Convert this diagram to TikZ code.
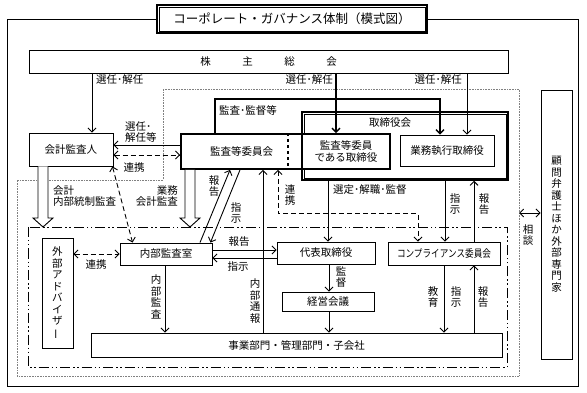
\documentclass[tikz,border=0pt]{standalone}
\usepackage{fontspec}
\setmainfont{Noto Sans CJK JP}
\usepackage{graphicx}
\usetikzlibrary{arrows.meta,calc}

\newcommand{\hollowarr}[2]{%
  \draw[hollow] ($(#1)+(-5,0)$) -- ($(#2)+(-5,-9)$) -- ($(#2)+(-10,-9)$) -- (#2)
    -- ($(#2)+(10,-9)$) -- ($(#2)+(5,-9)$) -- ($(#1)+(5,0)$);}
\newcommand{\innerline}[1]{%
  \draw[line width=0.6pt] ([xshift=2.6pt,yshift=-2.6pt]#1.north west) rectangle ([xshift=-2.6pt,yshift=2.6pt]#1.south east);}

\begin{document}
\begin{tikzpicture}[
    x=1pt, y=-1pt,
    font=\fontsize{10.5}{11.5}\selectfont,
    box/.style={
        draw,
        line width=0.9pt,
        fill=white,
        inner sep=1pt,
        align=center
    },
    boldbox/.style={box, line width=1.8pt},
    dblbox/.style={draw, line width=1.5pt, fill=white, inner sep=1pt},
    lbl/.style={inner sep=0pt, align=center},
    arrow/.style={-{Straight Barb[length=4pt,width=8pt]}, line width=0.9pt},
    darrow/.style={{Straight Barb[length=4pt,width=8pt]}-{Straight Barb[length=4pt,width=8pt]}, line width=0.9pt, dash pattern=on 5pt off 3pt},
    hollow/.style={line width=0.9pt, fill=white},
    region/.style={densely dotted, gray, line width=0.6pt},
    ddframe/.style={line width=0.9pt, dash pattern=on 10pt off 3pt on 1.5pt off 2.5pt on 1.5pt off 3pt}
]
\useasboundingbox (0,0) rectangle (587,393);

\node[dblbox, minimum width=270, minimum height=28, font=\fontsize{12.5}{14}\selectfont] (title) at (292,19) {コーポレート・ガバナンス体制（模式図）};
\innerline{title}
\draw[line width=0.9pt] (title.west) -| (7,386) -| (578,19) -- (title.east);

\draw[region] (163,89) -- (519,89) -- (519,376) -- (17,376) -- (17,180) -- (163,180) -- cycle;
\coordinate (ddtl) at (28,227);
\coordinate (ddbr) at (507,367);
\draw[ddframe] (ddtl) rectangle (ddbr);

\node[box, minimum width=479, minimum height=23] (soukai) at (268.5,61.5) {株\hspace{3em}主\hspace{3em}総\hspace{3em}会};
\node[box, minimum width=84, minimum height=33] (kaikei) at (71,149.5) {会計監査人};
\node[dblbox, minimum width=206, minimum height=68] (torishimari) at (405,146) {};
\innerline{torishimari}
\node[lbl] (tlabel) at (390,122.5) {取締役会};
\node[boldbox, minimum width=121, minimum height=35] (iinkai) at (241.5,151.5) {監査等委員会};
\node[boldbox, minimum width=88, minimum height=35] (iintori) at (346,151.5) {監査等委員\\である取締役};
\node[box, minimum width=94, minimum height=31] (gyomu) at (447,150.5) {業務執行取締役};
\node[box, minimum width=92, minimum height=22] (naibu) at (166,254) {内部監査室};
\node[box, minimum width=98, minimum height=22] (daihyo) at (326,253) {代表取締役};
\node[box, minimum width=92, minimum height=19] (keiei) at (328,301.5) {経営会議};
\node[box, minimum width=112, minimum height=23] (comp) at (444,253.5) {\scalebox{0.82}[1]{コンプライアンス委員会}};
\node[box, minimum width=411, minimum height=24] (jigyo) at (296.5,345) {事業部門・管理部門・子会社};
\node[box, minimum width=31, minimum height=110] (gaibu) at (57.5,293) {外\\部\\ア\\ド\\バ\\イ\\ザ\\\rotatebox[origin=c]{90}{ー}};
\node[box, minimum width=31, minimum height=269] (komon) at (556.5,224.5) {顧\\問\\弁\\護\\士\\ほ\\か\\外\\部\\専\\門\\家};

\draw[dashed, line width=1.2pt] ([xshift=-15pt]iinkai.north east) -- ([xshift=-15pt]iinkai.south east);

\draw[arrow] ([xshift=21pt]kaikei.north |- soukai.south) -- ([xshift=21pt]kaikei.north);
\draw[arrow, line width=1.4pt] ([xshift=-10pt]iintori.north |- soukai.south) -- ([xshift=-10pt]iintori.north);
\draw[arrow] ([xshift=20pt]gyomu.north |- soukai.south) -- ([xshift=20pt]gyomu.north);
\draw[arrow, line width=1.4pt] ([xshift=-26.5pt]iinkai.north) -- ++(0,-34) -| ([xshift=-7pt]gyomu.north);
\draw[arrow] ([yshift=6.5pt]iinkai.west) -- ([yshift=6.5pt]iinkai.west -| kaikei.east);
\draw[darrow] ([yshift=-3.5pt]iinkai.west -| kaikei.east) -- ([yshift=-3.5pt]iinkai.west);

\coordinate (h1a) at ([xshift=-28pt]kaikei.south);
\coordinate (h1b) at (h1a |- ddtl);
\hollowarr{h1a}{h1b}
\coordinate (h2a) at ([xshift=-51.5pt]iinkai.south);
\coordinate (h2b) at (h2a |- ddtl);
\hollowarr{h2a}{h2b}

\draw[darrow] ([xshift=-1pt]kaikei.south east) -- ([xshift=13pt]naibu.north west);
\draw[arrow] ([xshift=34pt]naibu.north) -- ([xshift=-11.5pt]iinkai.south);
\draw[arrow] ([xshift=-1.5pt]iinkai.south) -- ([xshift=-2pt]naibu.north east);
\draw[arrow] ([yshift=4pt]naibu.east) -- ([yshift=4pt]naibu.east -| daihyo.west);
\draw[arrow] ([yshift=-4pt]naibu.east -| daihyo.west) -- ([yshift=-4pt]naibu.east);
\draw[arrow] ([xshift=-33.5pt]jigyo.north) -- ([xshift=-33.5pt]jigyo.north |- iinkai.south);
\draw[darrow] ([xshift=36.5pt]iinkai.south) -- ++(0,44) -| ([xshift=-26pt]comp.north);
\draw[arrow] ([xshift=2pt]daihyo.north |- torishimari.south) -- ([xshift=2pt]daihyo.north);
\draw[arrow] ([xshift=1pt]comp.north |- torishimari.south) -- ([xshift=1pt]comp.north);
\draw[arrow] ([xshift=30pt]comp.north) -- ([xshift=30pt]comp.north |- torishimari.south);
\draw[arrow] ([xshift=3pt]daihyo.south) -- ([xshift=3pt]daihyo.south |- keiei.north);
\draw[arrow] ([xshift=1pt]keiei.south) -- ([xshift=1pt]keiei.south |- jigyo.north);
\draw[arrow] ([xshift=-1pt]naibu.south) -- ([xshift=-1pt]naibu.south |- jigyo.north);
\draw[arrow] (comp.south) -- (comp.south |- jigyo.north);
\draw[arrow] ([xshift=30pt]comp.north |- jigyo.north) -- ([xshift=30pt]comp.south);
\draw[darrow] (gaibu.east |- naibu.west) -- (naibu.west);
\coordinate (soudan) at (519,213);
\draw[arrow, {Straight Barb[length=4pt,width=8pt]}-{Straight Barb[length=4pt,width=8pt]}] (soudan) -- (soudan -| komon.west);

\node[lbl, anchor=west] (l1) at (96,80) {選任･解任};
\node[lbl, anchor=east] (l2) at (333,80) {選任･解任};
\node[lbl, anchor=east] (l3) at (462,80) {選任･解任};
\node[lbl, anchor=west] (l4) at (219,110) {監査･監督等};
\node[lbl, anchor=west, align=left] (l5) at (125,132) {選任･\\解任等};
\node[lbl] (l6) at (134,168) {連携};
\node[lbl, anchor=west, align=left] (l7) at (53,196) {会計\\内部統制監査};
\node[lbl, anchor=east, align=right] (l8) at (178,196) {業務\\会計監査};
\node[lbl] (l9) at (214,186) {報\\告};
\node[lbl] (l10) at (236,213) {指\\示};
\node[lbl] (l11) at (290,195) {連\\携};
\node[lbl, anchor=west] (l12) at (333,190) {選定･解職･監督};
\node[lbl] (l13) at (455,204) {指\\示};
\node[lbl] (l14) at (484,204) {報\\告};
\node[lbl] (l15) at (239,242) {報告};
\node[lbl] (l16) at (238,267) {指示};
\node[lbl] (l17) at (96,265) {連携};
\node[lbl] (l18) at (156,297) {内\\部\\監\\査};
\node[lbl] (l19) at (255,301) {内\\部\\通\\報};
\node[lbl] (l20) at (341,277) {監\\督};
\node[lbl] (l21) at (433,297) {教\\育};
\node[lbl] (l22) at (456,297) {指\\示};
\node[lbl] (l23) at (483,297) {報\\告};
\node[lbl] (l24) at (528,235) {相\\談};
\end{tikzpicture}
\end{document}
